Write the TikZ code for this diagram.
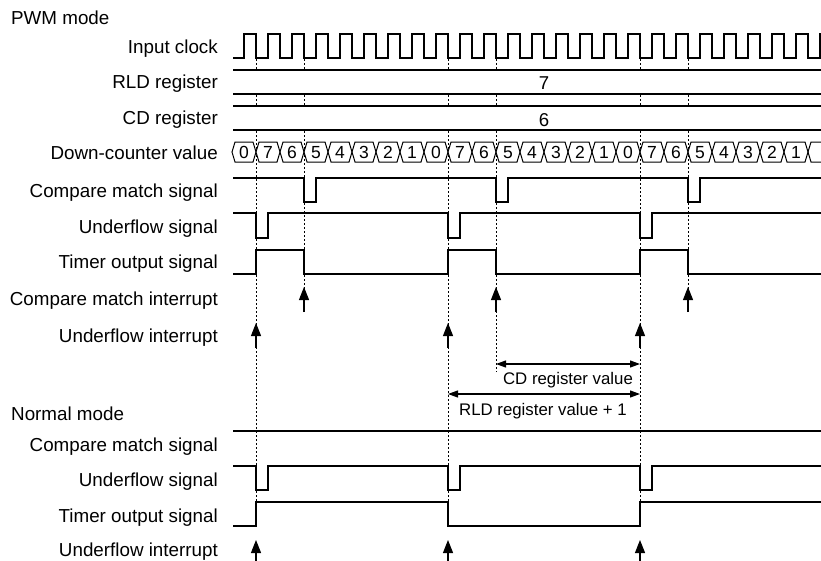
\documentclass[tikz,border=0pt]{standalone}
\usepackage{fontspec}
\setmainfont{Liberation Sans}
\usetikzlibrary{arrows.meta}

\begin{document}
\begin{tikzpicture}[
    x=1pt, y=-1pt,
    lbl/.style={anchor=base east, inner sep=0pt, font=\fontsize{18.8}{22}\selectfont},
    head/.style={anchor=base west, inner sep=0pt, font=\fontsize{18.8}{22}\selectfont},
    regval/.style={anchor=base, inner sep=0pt, font=\fontsize{18.6}{22}\selectfont},
    val/.style={anchor=base, inner sep=0pt, font=\fontsize{17.5}{20}\selectfont},
    note/.style={anchor=base, inner sep=0pt, font=\fontsize{16.8}{20}\selectfont},
    wave/.style={draw, line width=1.1pt},
    guide/.style={draw, line width=0.7pt, dash pattern=on 2pt off 2pt},
    cell/.style={draw, line width=1pt, fill=white},
    irq/.style={draw, line width=1.1pt, -{Triangle[length=13pt, width=10pt]}},
    span/.style={draw, line width=1.1pt, {Triangle[length=10pt, width=7pt]}-{Triangle[length=10pt, width=7pt]}}
]
\useasboundingbox (0,0) rectangle (821,560);

% Labels
\node [head] (pwm) at (11,24) {PWM mode};
\node [lbl] (clk) at (218,53) {Input clock};
\node [lbl] (rld) at (218,88.5) {RLD register};
\node [lbl] (cd) at (218,124.3) {CD register};
\node [lbl] (cnt) at (218,159) {Down-counter value};
\node [lbl] (cmp) at (218,197.3) {Compare match signal};
\node [lbl] (ufl) at (218,233.3) {Underflow signal};
\node [lbl] (tmr) at (218,268.3) {Timer output signal};
\node [lbl] (cmpirq) at (218,305) {Compare match interrupt};
\node [lbl] (uflirq) at (218,342.3) {Underflow interrupt};

\node [head] (normal) at (11,420) {Normal mode};
\node [lbl] (ncmp) at (218,451) {Compare match signal};
\node [lbl] (nufl) at (218,486.7) {Underflow signal};
\node [lbl] (ntmr) at (218,522.3) {Timer output signal};
\node [lbl] (nuflirq) at (218,556) {Underflow interrupt};

% Guides
\foreach \x/\e in {256/526, 304/290, 448/526, 496/372, 640/526, 688/290}
  \path [guide] (\x,59) -- (\x,\e);

% Input clock
\path [wave] (233,58) foreach \k in {0,...,23} { -- ({244+24*\k},58) -- ++(0,-24) -- ++(12,0) -- ++(0,24) } -- (820,58) -- (820,34) -- (821,34);

% Registers
\fill [white] (233,70) rectangle (821,94);
\path [wave] (233,70) -- (821,70) (233,94) -- (821,94);
\node [regval] (rldval) at (544,89.3) {7};
\fill [white] (233,106) rectangle (821,130);
\path [wave] (233,106) -- (821,106) (233,130) -- (821,130);
\node [regval] (cdval) at (544,126) {6};

% Down-counter
\foreach \i in {0,...,23} {
  \pgfmathtruncatemacro{\v}{mod(8-mod(\i,8),8)}
  \path [cell] ({232+24*\i},152) -- ++(3,-10) -- ++(18,0) -- ++(3,10) -- ++(-3,10) -- ++(-18,0) -- cycle;
  \node [val] (c\i) at ({244+24*\i},158.3) {\v};
}
\path [cell, fill=none] (821,142) -- (811,142) -- (808,152) -- (811,162) -- (821,162);

% PWM signals
\path [wave] (233,178) foreach \t in {304,496,688} { -- (\t,178) -- (\t,202) -- ++(12,0) -- ++(0,-24) } -- (821,178);
\path [wave] (233,213) foreach \t in {256,448,640} { -- (\t,213) -- (\t,238) -- ++(12,0) -- ++(0,-25) } -- (821,213);
\path [wave] (233,274) foreach \t in {256,448,640} { -- (\t,274) -- (\t,250) -- ++(48,0) -- ++(0,24) } -- (821,274);

% Interrupts
\foreach \x in {304,496,688} \path [irq] (\x,312) -- (\x,287);
\foreach \x in {256,448,640} \path [irq] (\x,348) -- (\x,323);

% Spans
\path [span] (496,364) -- (640,364);
\node [note] (cdspan) at (568,384) {CD register value};
\path [span] (448,394) -- (640,394);
\node [note] (rldspan) at (543,415.7) {RLD register value + 1};

% Normal mode signals
\path [wave] (233,431) -- (821,431);
\path [wave] (233,466) foreach \t in {256,448,640} { -- (\t,466) -- (\t,490) -- ++(12,0) -- ++(0,-24) } -- (821,466);
\path [wave] (233,526) -- (256,526) -- (256,502) -- (448,502) -- (448,526) -- (640,526) -- (640,502) -- (821,502);
\foreach \x in {256,448,640} \path [irq] (\x,562) -- (\x,540);
\end{tikzpicture}
\end{document}
